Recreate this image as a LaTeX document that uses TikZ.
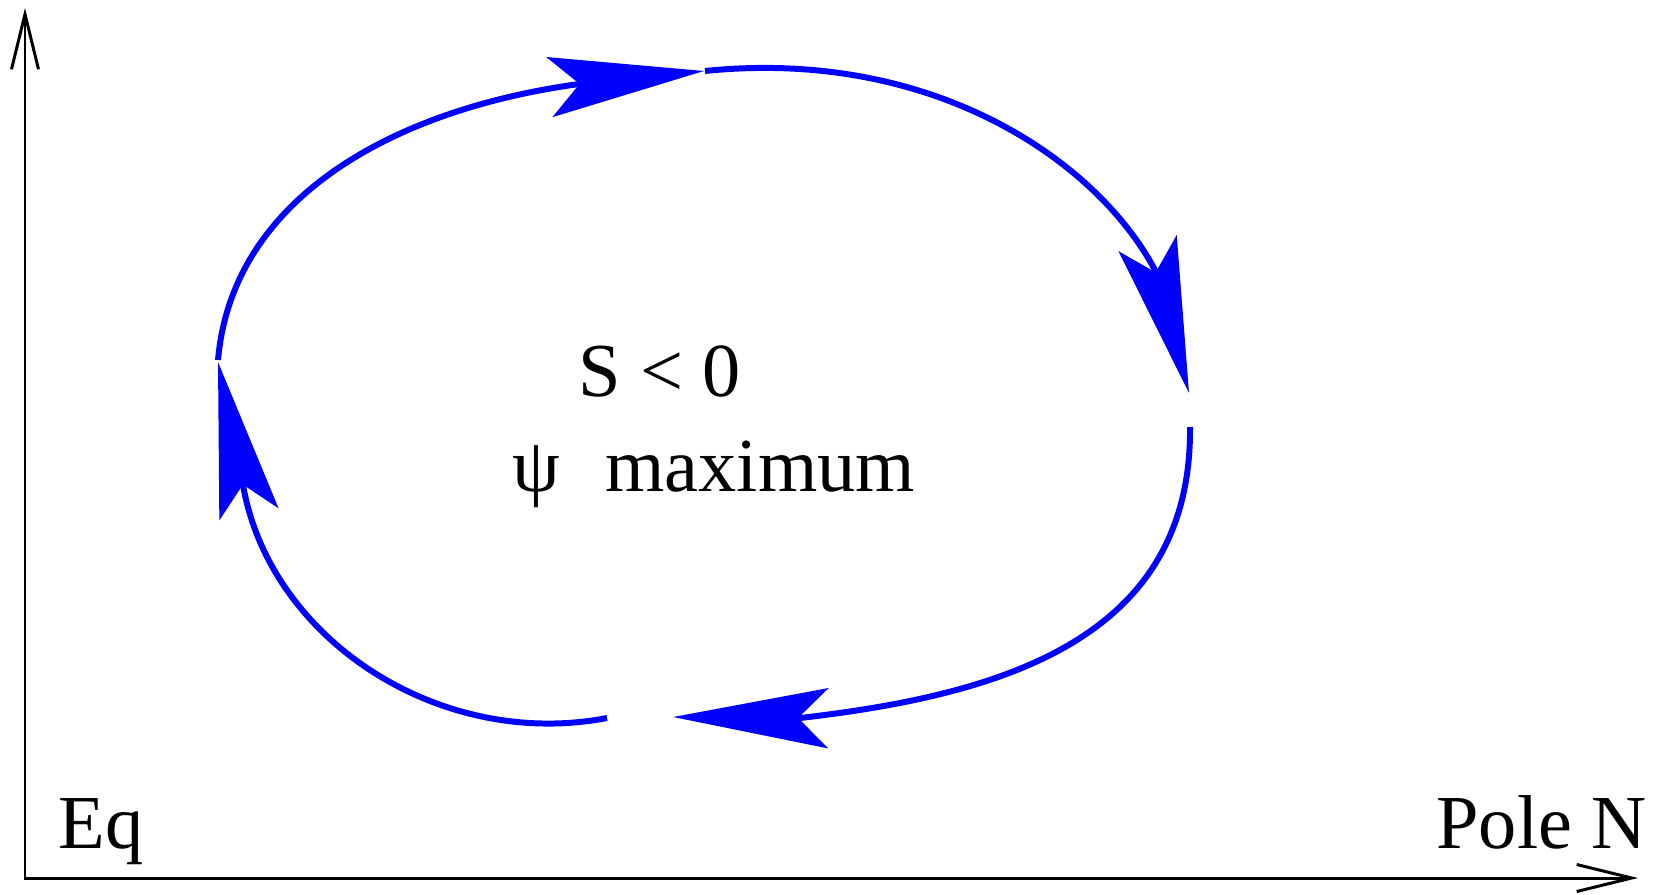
\documentclass[tikz,border=0pt]{standalone}
\usepackage{fontspec}
\setmainfont{Liberation Serif}
\usetikzlibrary{arrows.meta,positioning}

\begin{document}
\begin{tikzpicture}[x=0.01cm, y=-0.01cm,
    axis/.style={line width=0.85pt, {Straight Barb[length=0.55cm, width=0.27cm]}-{Straight Barb[length=0.55cm, width=0.27cm]}},
    flow/.style={blue, line width=1.7pt, -{Stealth[length=1.55cm, width=0.6cm, inset=0.3cm]}},
    lbl/.style={inner sep=0pt, font=\fontsize{21.7}{26}\selectfont}]
    \useasboundingbox (0,0) rectangle (1655,894);

    % Axes
    \coordinate (origin) at (25,878);
    \coordinate (ytip) at (25,8);
    \coordinate (xtip) at (1638,878);
    \draw[axis] (ytip) -- (origin) -- (xtip);
    \node[lbl, anchor=base west] (eq) at (58,848) {Eq};
    \node[lbl, anchor=base east] (pole) at (1647,848) {Pole N};

    % Cycle end points
    \coordinate (topstart) at (218,360);
    \coordinate (topnotch) at (579,84);
    \coordinate (toptip) at (704,71);
    \coordinate (rightstart) at (705,71);
    \coordinate (rightnotch) at (1155,270);
    \coordinate (righttip) at (1189,393);
    \coordinate (lowstart) at (1190,427);
    \coordinate (lownotch) at (800,718);
    \coordinate (lowtip) at (673,717);
    \coordinate (leftstart) at (607,718);
    \coordinate (leftnotch) at (243,485);
    \coordinate (lefttip) at (218,362);

    % Circulation
    \draw[flow] (topstart) .. controls (232,200) and (390,110) .. (topnotch) -- (toptip);
    \draw[flow] (rightstart) .. controls (930,48) and (1095,158) .. (rightnotch) -- (righttip);
    \draw[flow] (lowstart) .. controls (1192,640) and (1000,695) .. (lownotch) -- (lowtip);
    \draw[flow] (leftstart) .. controls (440,750) and (270,640) .. (leftnotch) -- (lefttip);

    % Labels
    \node[lbl, anchor=base west] (sign) at (578,396) {S < 0};
    \node[lbl, anchor=base west] (psi) at (512,491) {ψ\hspace{0.26cm} maximum};
\end{tikzpicture}
\end{document}
